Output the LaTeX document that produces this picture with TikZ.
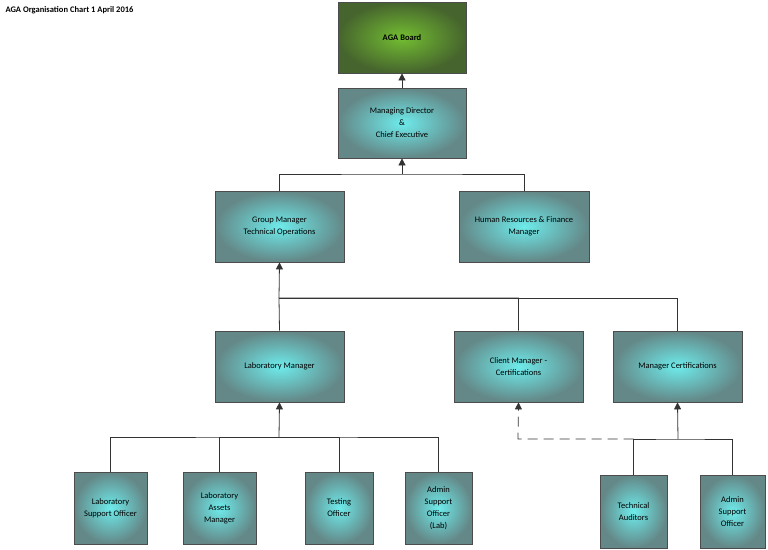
\documentclass[tikz,border=0pt]{standalone}
\usepackage{fontspec}
\setmainfont{Carlito}
\usetikzlibrary{arrows.meta}
\definecolor{tin}{RGB}{110,235,235}
\definecolor{tout}{RGB}{100,135,135}
\definecolor{gin}{RGB}{115,190,50}
\definecolor{gout}{RGB}{70,100,45}
\tikzset{
 box/.style={draw=black!70,line width=0.8pt,inner color=tin,outer color=tout,align=center,font=\fontsize{8.5}{12}\selectfont,inner sep=0pt},
 gbox/.style={box,inner color=gin,outer color=gout,font=\bfseries\fontsize{8.5}{12}\selectfont},
 ln/.style={draw=black!80,line width=0.8pt},
 arr/.style={ln,-{Triangle[length=7pt,width=7pt]}},
}
\newcommand{\bx}[6]{\node[#1,minimum width=#4pt-#2pt,minimum height=#5pt-#3pt] (#6) at ({(#2+#4)/2},{(#3+#5)/2})}
\begin{document}
\begin{tikzpicture}[x=1pt,y=-1pt]
\useasboundingbox (0,0) rectangle (768,549);
\node[anchor=west,font=\bfseries\fontsize{8.5}{10}\selectfont] (title) at (2,10) {AGA Organisation Chart 1 April 2016};
\bx{gbox}{338}{2}{466}{73}{board} {AGA Board};
\bx{box}{338}{88}{466}{158}{md} {Managing Director\\\&\\Chief Executive};
\bx{box}{215}{191}{344}{262}{gm} {Group Manager\\Technical Operations};
\bx{box}{459}{191}{589}{262}{hr} {Human Resources \& Finance\\Manager};
\bx{box}{215}{331}{344}{402}{lm} {Laboratory Manager};
\bx{box}{454}{331}{583}{402}{cm} {Client Manager -\\Certifications};
\bx{box}{613}{331}{742}{402}{mc} {Manager Certifications};
\bx{box}{74}{472}{147}{544}{lso} {Laboratory\\Support Officer};
\bx{box}{183}{472}{256}{544}{lam} {Laboratory\\Assets\\Manager};
\bx{box}{305}{472}{373}{544}{to} {Testing\\Officer};
\bx{box}{405}{472}{472}{544}{aso} {Admin\\Support\\Officer\\(Lab)};
\bx{box}{600}{475}{667}{548}{ta} {Technical\\Auditors};
\bx{box}{700}{475}{765}{548}{as2} {Admin\\Support\\Officer};
\draw[arr] (md.north) -- (board.south);
\coordinate (j1) at (402,174);
\draw[ln] (gm.north) |- (j1) -| (hr.north);
\draw[arr] (j1) -- (md.south);
\coordinate (j2) at (279,298);
\draw[arr] (j2) -- (gm.south);
\draw[ln] (lm.north) -- (j2) -| (cm.north);
\draw[ln] (j2) -| (mc.north);
\coordinate (j3) at (279,437);
\draw[arr] (j3) -- (lm.south);
\draw[ln] (lso.north) |- (j3) -| (aso.north);
\draw[ln] (lam.north) |- (j3);
\draw[ln] (to.north) |- (j3);
\coordinate (j4) at (678,439);
\coordinate (j5) at (518,439);
\draw[arr] (j4) -- (mc.south);
\draw[ln] (ta.north) |- (j4) -| (as2.north);
\draw[arr,dash pattern=on 10pt off 6pt] (ta.north|-j4) -- (j5) -- (cm.south);
\end{tikzpicture}
\end{document}
